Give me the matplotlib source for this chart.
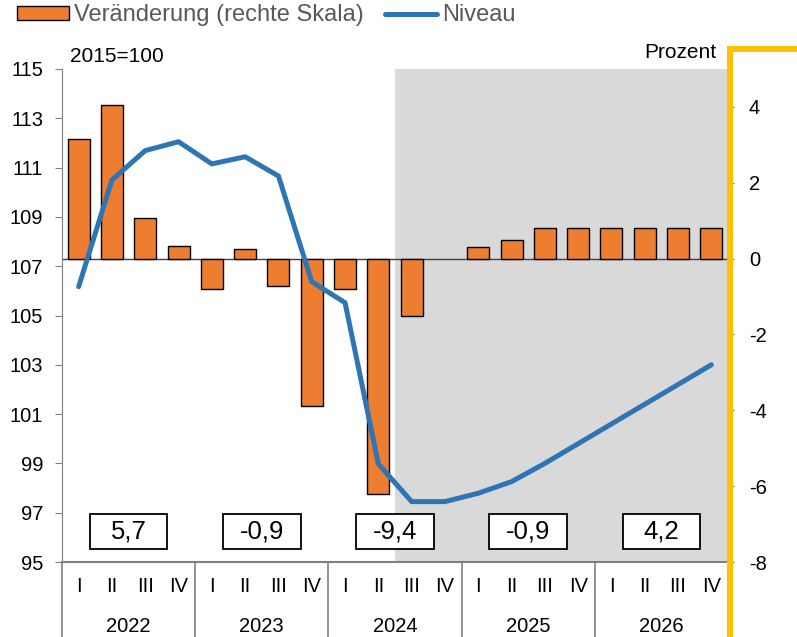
import matplotlib
matplotlib.use("Agg")
import matplotlib.pyplot as plt
from matplotlib.patches import Patch, Rectangle
from matplotlib.lines import Line2D
import matplotlib.transforms as mtransforms

plt.rcParams['font.family'] = ['Liberation Sans', 'DejaVu Sans']

years = ["2022", "2023", "2024", "2025", "2026"]
quarters = ["I", "II", "III", "IV"]
change = [3.15, 4.05, 1.07, 0.34, -0.80, 0.26, -0.71, -3.89, -0.79, -6.2,
          -1.5, 0.0, 0.30, 0.49, 0.80, 0.80, 0.80, 0.80, 0.80, 0.80]
level = [106.17, 110.5, 111.69, 112.05, 111.15, 111.44, 110.66, 106.37, 105.52, 98.98,
         97.45, 97.45, 97.79, 98.26, 99.0, 99.8, 100.6, 101.4, 102.2, 103.0]
annual = ["5,7", "-0,9", "-9,4", "-0,9", "4,2"]

W, H = 797, 637
fig = plt.figure(figsize=(W / 100, H / 100), dpi=100)
L, R, T, B = 62, 728, 69, 562
ax = fig.add_axes([L / W, 1 - B / H, (R - L) / W, (B - T) / H])
ax2 = ax.twinx()
ax.set_zorder(ax2.get_zorder() + 1)
ax.patch.set_visible(False)

n = len(change)
x = list(range(n))
ax.set_xlim(-0.5, n - 0.5)
ax2.set_xlim(-0.5, n - 0.5)

# forecast shading
ax2.axvspan(9.5, n - 0.5, color='#D9D9D9', zorder=0, lw=0)
edges = ['black' if v != 0 else 'none' for v in change]
ax2.bar(x, change, width=0.66, color='#ED7D31', edgecolor=edges, linewidth=1.0, zorder=2)
ax2.axhline(0, color='#404040', lw=1.0, zorder=1.5)
ax2.set_ylim(-8, 5)
ax2.set_yticks([-8, -6, -4, -2, 0, 2, 4])
ax2.set_yticklabels(['-8', '-6', '-4', '-2', '0', '2', '4'])

ax.plot(x, level, color='#2E75B6', lw=3.6, solid_capstyle='round', solid_joinstyle='round', zorder=3)
ax.set_ylim(95, 115)
ax.set_yticks(range(95, 116, 2))

for a in (ax, ax2):
    for s in a.spines.values():
        s.set_visible(False)
ax.spines['left'].set_visible(True)
ax.spines['left'].set_color('#808080')
ax.spines['bottom'].set_visible(True)
ax.spines['bottom'].set_color('#808080')
ax.spines['bottom'].set_linewidth(1.5)
ax.tick_params(axis='y', labelsize=14.5, length=5, color='#808080', pad=8.5, labelcolor='black')
ax2.tick_params(axis='y', labelsize=14.5, length=4, color='#808080', pad=11, labelcolor='black')
ax.set_xticks([])
ax2.set_xticks([])

# category labels
trans = mtransforms.blended_transform_factory(ax.transData, ax.transAxes)
for i in range(n):
    ax.text(i, -(587 - B) / (B - T), quarters[i % 4], transform=trans, ha='center', va='center',
            fontsize=14.5, color='black')
for j, yv in enumerate(years):
    ax.text(4 * j + 1.5, -(626 - B) / (B - T), yv, transform=trans, ha='center', va='center',
            fontsize=14.5, color='black')
for k in range(5):
    ax.add_line(Line2D([4 * k - 0.5, 4 * k - 0.5], [0, -0.16], transform=trans,
                       color='#808080', lw=1.2, clip_on=False))

# annual boxes
for j, t in enumerate(annual):
    cx = 4 * j + 1.5
    ax.add_patch(Rectangle((cx - 1.165, 95.52), 2.33, 1.43, facecolor='white',
                           edgecolor='black', lw=1.3, zorder=5))
    ax.text(cx, 96.22, t, ha='center', va='center', fontsize=18.5, zorder=6)

fig.text(70 / W, 1 - 57 / H, "2015=100", fontsize=15, ha='left', va='center')
fig.text(716 / W, 1 - 52 / H, "Prozent", fontsize=15, ha='right', va='center')

# yellow frame
fig.add_artist(Line2D([729.7 / W, 729.7 / W, 1.0], [0, 1 - 49 / H, 1 - 49 / H],
                      transform=fig.transFigure, color='#FFC000', lw=4.3,
                      solid_joinstyle='miter'))

handles = [Patch(facecolor='#ED7D31', edgecolor='black', lw=1.0),
           Line2D([0], [0], color='#2E75B6', lw=3.6, solid_capstyle='round')]
leg = fig.legend(handles, ["Veränderung (rechte Skala)", "Niveau"], loc='upper left',
                 bbox_to_anchor=(0.0095, 1.008), ncol=2, frameon=False, fontsize=17,
                 handlelength=2.2, handleheight=0.55, handletextpad=0.22, columnspacing=0.9,
                 labelcolor='#595959', borderaxespad=0)

fig.savefig("out.png", dpi=100)
